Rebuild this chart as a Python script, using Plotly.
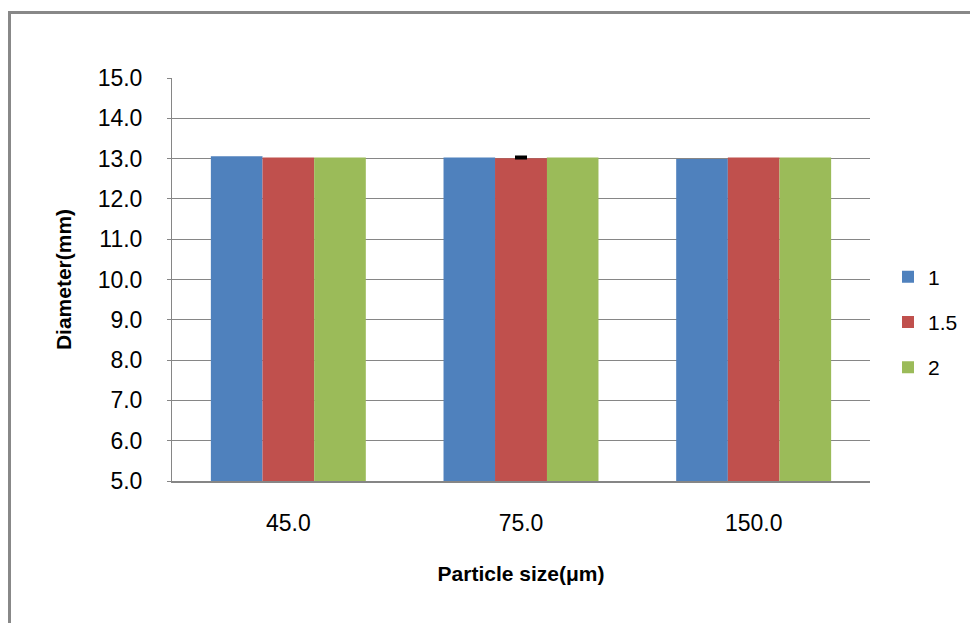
import plotly.graph_objects as go

categories = ["45.0", "75.0", "150.0"]
series_names = ["1", "1.5", "2"]
values_1 = [13.06, 13.03, 12.99]
values_15 = [13.03, 13.00, 13.03]
values_2 = [13.03, 13.03, 13.03]
err_category = ["75.0"]
err_value = [13.00]
err_plus = [0.05]
err_minus = [0.0]
y_ticks = [5, 6, 7, 8, 9, 10, 11, 12, 13, 14, 15]
y_ticklabels = [f"{v:.1f}" for v in y_ticks]

colors = ["#4F81BD", "#C0504D", "#9BBB59"]
W, H = 970, 623
L, R, T, B = 172, 870, 78, 481

fig = go.Figure()
fig.add_trace(go.Bar(x=categories, y=values_1, name=series_names[0], offsetgroup="a",
                     marker=dict(color=colors[0], line=dict(width=0)), legendgroup="a"))
fig.add_trace(go.Bar(x=categories, y=values_15, name=series_names[1], offsetgroup="b",
                     marker=dict(color=colors[1], line=dict(width=0)), legendgroup="b"))
fig.add_trace(go.Bar(x=categories, y=values_2, name=series_names[2], offsetgroup="c",
                     marker=dict(color=colors[2], line=dict(width=0)), legendgroup="c"))
# error bar for the 1.5 series at 75.0 (overlaid on the same bar slot)
fig.add_trace(go.Bar(x=err_category, y=err_value, offsetgroup="b", showlegend=False,
                     legendgroup="b", hoverinfo="skip",
                     marker=dict(color=colors[1], line=dict(width=0)),
                     error_y=dict(type="data", symmetric=False, array=err_plus,
                                  arrayminus=err_minus, color="black",
                                  thickness=2, width=6)))

def px_x(px):
    return (px - L) / (R - L)

def px_y(py):
    return (B - py) / (B - T)

border = "#888888"
shapes = [
    dict(type="line", xref="paper", yref="paper", x0=px_x(9.5), x1=px_x(9.5),
         y0=px_y(11), y1=px_y(640), line=dict(color=border, width=3)),
    dict(type="line", xref="paper", yref="paper", x0=px_x(8), x1=px_x(990),
         y0=px_y(12.5), y1=px_y(12.5), line=dict(color=border, width=3)),
]

font_family = "Liberation Sans, Arial, sans-serif"
fig.update_layout(
    width=W, height=H,
    margin=dict(l=L, r=W - R, t=T, b=H - B, pad=0),
    paper_bgcolor="white", plot_bgcolor="white",
    barmode="group", bargap=0.334, bargroupgap=0,
    font=dict(family=font_family, color="black"),
    shapes=shapes,
    showlegend=True,
    legend=dict(xref="container", yref="container",
                x=888 / W, y=(H - 322) / H, xanchor="left", yanchor="middle",
                font=dict(size=21, family=font_family, color="black"),
                traceorder="grouped", tracegroupgap=15,
                bgcolor="rgba(0,0,0,0)", itemwidth=30),
    xaxis=dict(
        showgrid=False, showline=True, linecolor="#868686", linewidth=2,
        ticks="", tickfont=dict(size=23, family=font_family),
        ticklabelstandoff=20,
        title=dict(text="<b>Particle size(μm)</b>", font=dict(size=21, family=font_family),
                   standoff=32),
    ),
    yaxis=dict(
        range=[5, 15], tickvals=y_ticks, ticktext=y_ticklabels,
        showgrid=True, gridcolor="#868686", gridwidth=1,
        showline=True, linecolor="#868686", linewidth=1,
        ticks="outside", ticklen=4, tickcolor="#868686",
        tickfont=dict(size=23, family=font_family),
        ticklabelstandoff=20,
        zeroline=False,
        title=dict(text="<b>Diameter(mm)</b>", font=dict(size=21, family=font_family),
                   standoff=20),
    ),
)

fig.write_html("out.html", config={"displayModeBar": False},
               post_script="document.body.style.margin='0';")
